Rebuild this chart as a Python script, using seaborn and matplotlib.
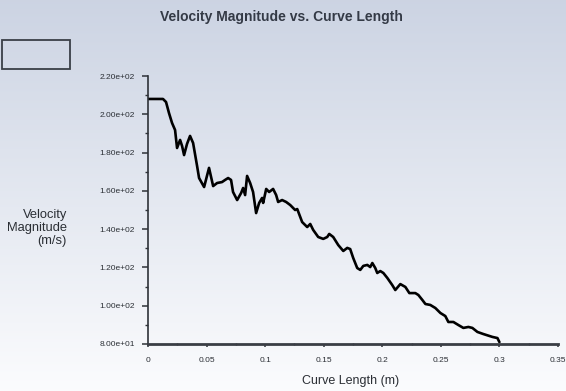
import numpy as np
import matplotlib
matplotlib.use("Agg")
import matplotlib.pyplot as plt
from matplotlib.ticker import MultipleLocator, FuncFormatter
from matplotlib.patches import Rectangle
import seaborn as sns

# Velocity magnitude sampled along the curve
curve_length = [
    0.0, 0.0128, 0.0154, 0.0179, 0.0205, 0.0231, 0.0248, 0.0274, 0.0291, 0.0308,
    0.0333, 0.0359, 0.0385, 0.0419, 0.0436, 0.0479, 0.0521, 0.0556, 0.0590, 0.0632,
    0.0658, 0.0684, 0.0709, 0.0726, 0.0761, 0.0795, 0.0812, 0.0829, 0.0846, 0.0872,
    0.0897, 0.0923, 0.0949, 0.0974, 0.0983, 0.1009, 0.1034, 0.1068, 0.1094, 0.1111,
    0.1145, 0.1179, 0.1214, 0.1256, 0.1274, 0.1316, 0.1359, 0.1385, 0.1410, 0.1453,
    0.1496, 0.1530, 0.1547, 0.1581, 0.1624, 0.1667, 0.1701, 0.1726, 0.1752, 0.1786,
    0.1812, 0.1838, 0.1872, 0.1897, 0.1915, 0.1940, 0.1957, 0.1983, 0.2009, 0.2043,
    0.2085, 0.2111, 0.2154, 0.2197, 0.2231, 0.2282, 0.2308, 0.2342, 0.2368, 0.2410,
    0.2453, 0.2496, 0.2538, 0.2564, 0.2607, 0.2650, 0.2692, 0.2735, 0.2769, 0.2812,
    0.2863, 0.2940, 0.2983, 0.3000,
]
velocity = [
    208.0, 208.0, 206.4, 200.7, 195.5, 191.8, 182.4, 186.6, 183.4, 178.7,
    184.5, 188.7, 185.0, 173.0, 166.7, 162.0, 172.0, 162.5, 164.1, 164.6,
    165.7, 166.7, 165.7, 159.4, 155.2, 158.9, 161.5, 157.8, 167.8, 164.1,
    159.4, 148.4, 153.7, 156.3, 153.7, 161.0, 159.4, 161.0, 157.8, 154.2,
    155.2, 154.2, 152.6, 150.0, 150.5, 143.7, 141.1, 142.7, 139.6, 135.9,
    134.9, 135.9, 137.5, 135.9, 131.7, 128.6, 130.2, 129.6, 124.9, 119.7,
    118.7, 120.8, 121.3, 120.2, 122.3, 119.7, 117.1, 118.1, 117.1, 114.5,
    110.8, 108.2, 111.3, 109.8, 106.6, 106.6, 105.6, 103.0, 100.9, 100.4,
    98.8, 96.2, 94.6, 91.5, 91.5, 89.9, 88.4, 88.9, 88.4, 86.3,
    85.2, 83.7, 83.1, 81.0,
]

title_text = "Velocity Magnitude vs. Curve Length"
x_label = "Curve Length (m)"
y_label = "Velocity\nMagnitude\n(m/s)"

sns.set_style("ticks")
plt.rcParams["font.family"] = ["Liberation Sans", "DejaVu Sans"]
narrow = ["Liberation Sans Narrow", "Liberation Sans", "DejaVu Sans"]

W, H = 566, 391
fig = plt.figure(figsize=(W / 100, H / 100), dpi=100)

# soft vertical gradient behind everything
bg = fig.add_axes([0, 0, 1, 1], zorder=-10)
t = np.linspace(0, 1, 256)[:, None]
top = np.array([0.800, 0.830, 0.890])
bottom = np.array([0.985, 0.988, 0.995])
grad = top[None, None, :] * (1 - t[..., None]) + bottom[None, None, :] * t[..., None]
grad = np.repeat(grad, 4, axis=1)
bg.imshow(grad, aspect="auto", extent=[0, 1, 0, 1], origin="upper")
bg.set_xlim(0, 1)
bg.set_ylim(0, 1)
bg.axis("off")

# empty legend frame in the upper-left corner
fig.patches.append(Rectangle((2 / W, 1 - 69 / H), 68 / W, 29 / H,
                             transform=fig.transFigure, fill=False,
                             edgecolor="#3a3f47", linewidth=1.3))

left, right, ytop, ybot = 148, 558, 76, 344
ax = fig.add_axes([left / W, 1 - ybot / H, (right - left) / W, (ybot - ytop) / H])
ax.patch.set_alpha(0)

sns.lineplot(x=curve_length, y=velocity, ax=ax, color="black",
             linewidth=1.9, estimator=None, sort=False)

ax.set_xlim(0, 0.35)
ax.set_ylim(80, 220)

for s in ("top", "right"):
    ax.spines[s].set_visible(False)
ax.spines["left"].set_color("#2e3238")
ax.spines["left"].set_linewidth(1.2)
ax.spines["bottom"].set_color("#3a3e45")
ax.spines["bottom"].set_linewidth(2.0)

ax.yaxis.set_major_locator(MultipleLocator(20))
ax.yaxis.set_minor_locator(MultipleLocator(10))
ax.xaxis.set_major_locator(MultipleLocator(0.05))
ax.xaxis.set_minor_locator(MultipleLocator(0.025))
ax.yaxis.set_major_formatter(FuncFormatter(lambda v, p: f"{v:.2e}"))
ax.xaxis.set_major_formatter(FuncFormatter(lambda v, p: f"{v:g}"))

ax.tick_params(axis="y", which="major", direction="out", length=4.5, width=1.1,
               color="#2e3238", pad=5, labelsize=6, labelcolor="#2b2f35")
ax.tick_params(axis="y", which="minor", direction="out", length=2.5, width=1.0,
               color="#2e3238")
ax.tick_params(axis="x", which="major", direction="out", length=2.5, width=1.1,
               color="#2e3238", pad=7, labelsize=6, labelcolor="#2b2f35")
ax.tick_params(axis="x", which="minor", direction="inout", length=2.0, width=1.0,
               color="#2e3238")
for lab in ax.get_xticklabels() + ax.get_yticklabels():
    lab.set_family(narrow)

ax.set_xlabel("")
ax.set_ylabel("")

fig.text(281 / W, 1 - 17 / H, title_text, ha="center", va="center",
         fontsize=10, fontweight="bold", color="#343a46", family=narrow)
fig.text(67 / W, 1 - 228 / H, y_label, ha="right", va="center",
         multialignment="right", fontsize=9.3, linespacing=1.08, color="#2b2f35")
fig.text(351 / W, 1 - 381 / H, x_label, ha="center", va="center",
         fontsize=9, color="#2b2f35")

fig.savefig("out.png", dpi=100)
